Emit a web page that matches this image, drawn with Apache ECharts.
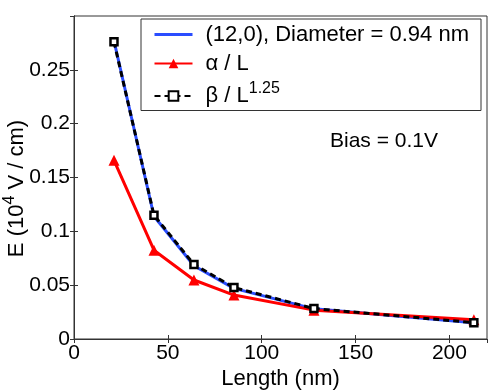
<!DOCTYPE html>
<html>
<head>
<meta charset="utf-8">
<script src="https://cdn.jsdelivr.net/npm/echarts@6/dist/echarts.min.js"></script>
<style>
  html, body { margin: 0; padding: 0; background: #fff; }
  #chart { width: 491px; height: 391px; }
</style>
</head>
<body>
<div id="chart"></div>
<script>
// tube length (nm)
const lengths = [21.3, 42.6, 63.9, 85.2, 127.8, 213]
// field E (10^4 V/cm)
const simulated = [0.277, 0.114, 0.068, 0.047, 0.028, 0.015]
const alphaFit = [0.166, 0.0825, 0.0548, 0.0408, 0.0268, 0.0178]
const betaFit = [0.276, 0.115, 0.0692, 0.0478, 0.0283, 0.0152]

const font = 'Liberation Sans, Arial, sans-serif'
const axisColor = '#333'
const blue = '#2a4dff'

const pairs = (ys) => lengths.map((x, i) => [x, ys[i]])

const chart = echarts.init(document.getElementById('chart'))

const option = {
  backgroundColor: '#fff',
  animation: false,
  textStyle: { fontFamily: font },

  grid: {
    left: 74,
    right: 4,
    top: 16,
    bottom: 52,
    outerBoundsMode: 'none',
    containLabel: false,
    show: true,
    borderColor: axisColor,
    borderWidth: 1
  },

  legend: {
    orient: 'vertical',
    left: 141,
    top: 19,
    padding: [4, 12, 3, 12],
    itemWidth: 38,
    itemHeight: 12,
    itemGap: 6,
    borderColor: axisColor,
    borderWidth: 1,
    backgroundColor: '#fff',
    textStyle: {
      fontSize: 22,
      color: '#000',
      lineHeight: 23,
      padding: [0, 0, 0, 8],
      rich: {
        n: { fontSize: 22, color: '#000' },
        s: { fontSize: 16, color: '#000', padding: [0, 0, 14, 0] }
      }
    },
    formatter: (name) => name === 'beta' ? '{n|β / L}{s|1.25}' : name,
    data: [
      {
        name: '(12,0), Diameter = 0.94 nm',
        itemStyle: { opacity: 0 },
        lineStyle: { color: blue, width: 3 }
      },
      'α / L',
      'beta'
    ]
  },

  graphic: [
    {
      type: 'text',
      left: 330,
      top: 131,
      style: { text: 'Bias = 0.1V', font: '21px ' + font, fill: '#000' }
    }
  ],

  xAxis: [
    {
      type: 'value',
      min: 0,
      max: 220,
      interval: 50,
      name: 'Length (nm)',
      nameLocation: 'middle',
      nameGap: 29,
      nameMoveOverlap: false,
      nameTextStyle: { fontSize: 22, color: '#000' },
      axisLine: { lineStyle: { color: axisColor } },
      axisTick: { inside: true, length: 4, lineStyle: { color: axisColor } },
      axisLabel: { fontSize: 21, color: '#000', margin: 4, showMaxLabel: false },
      splitLine: { show: false }
    },
    {
      type: 'value',
      position: 'top',
      min: 0,
      max: 220,
      interval: 50,
      axisLine: { lineStyle: { color: axisColor } },
      axisTick: { inside: true, length: 4, lineStyle: { color: axisColor } },
      axisLabel: { show: false },
      splitLine: { show: false }
    }
  ],

  yAxis: [
    {
      type: 'value',
      min: 0,
      max: 0.3,
      interval: 0.05,
      name: '{n|E (10}{s|4}{n| V / cm)}',
      nameLocation: 'middle',
      nameGap: 42,
      nameMoveOverlap: false,
      nameTextStyle: {
        padding: [0, 22, 0, 0],
        rich: {
          n: { fontSize: 22, color: '#000', fontFamily: font },
          s: { fontSize: 16, color: '#000', fontFamily: font, padding: [0, 0, 14, 0] }
        }
      },
      axisLine: { lineStyle: { color: axisColor } },
      axisTick: { inside: true, length: 4, lineStyle: { color: axisColor } },
      axisLabel: { fontSize: 21, color: '#000', margin: 4, showMaxLabel: false },
      splitLine: { show: false }
    },
    {
      type: 'value',
      position: 'right',
      min: 0,
      max: 0.3,
      interval: 0.05,
      axisLine: { lineStyle: { color: axisColor } },
      axisTick: { inside: true, length: 4, lineStyle: { color: axisColor } },
      axisLabel: { show: false },
      splitLine: { show: false }
    }
  ],

  series: [
    {
      name: '(12,0), Diameter = 0.94 nm',
      type: 'line',
      data: pairs(simulated),
      symbol: 'none',
      lineStyle: { color: blue, width: 3 },
      itemStyle: { color: blue }
    },
    {
      name: 'α / L',
      type: 'line',
      data: pairs(alphaFit),
      symbol: 'triangle',
      symbolSize: 11,
      lineStyle: { color: '#ff0000', width: 3 },
      itemStyle: { color: '#ff0000' }
    },
    {
      name: 'beta',
      type: 'line',
      data: pairs(betaFit),
      symbol: 'rect',
      symbolSize: 7,
      lineStyle: { color: '#000', width: 3, type: [6, 4] },
      itemStyle: { color: '#fff', borderColor: '#000', borderWidth: 2.5 }
    }
  ]
}

chart.setOption(option)
</script>
</body>
</html>
